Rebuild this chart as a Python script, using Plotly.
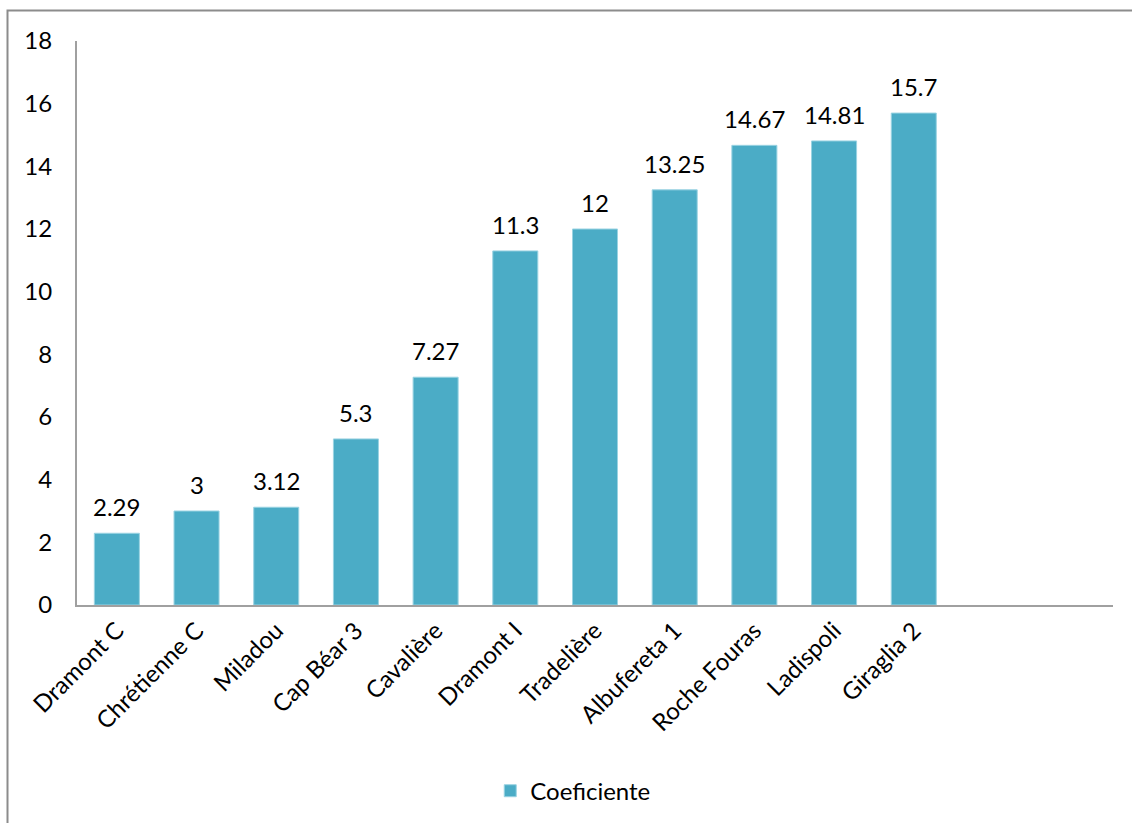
import plotly.graph_objects as go

# Sites ordered by coefficient
sites = ["Dramont C", "Chrétienne C", "Miladou", "Cap Béar 3", "Cavalière",
         "Dramont I", "Tradelière", "Albufereta 1", "Roche Fouras", "Ladispoli",
         "Giraglia 2"]
coef = [2.29, 3, 3.12, 5.3, 7.27, 11.3, 12, 13.25, 14.67, 14.81, 15.7]
y_ticks = [0, 2, 4, 6, 8, 10, 12, 14, 16, 18]

W, H = 1132, 823
ML, MR, MT, MB = 77, 19, 41, 218
FONT = "Lato, Calibri, sans-serif"
FS = 24
BAR = "#4BACC6"

positions = list(range(len(sites)))

fig = go.Figure(go.Bar(
    x=positions, y=coef, name="Coeficiente",
    width=0.565,
    marker=dict(color=BAR, line=dict(color="#9AD3E2", width=1)),
))

# value labels above each bar
for xi, v in zip(positions, coef):
    fig.add_annotation(x=xi, y=v, text=f"{v:g}", showarrow=False,
                       yanchor="bottom", yshift=10,
                       font=dict(family=FONT, size=FS, color="#000"))

pw, ph = W - ML - MR, H - MT - MB
fig.update_layout(
    width=W, height=H,
    margin=dict(l=ML, r=MR, t=MT, b=MB, autoexpand=False),
    paper_bgcolor="white", plot_bgcolor="white",
    font=dict(family=FONT, size=FS, color="#000"),
    showlegend=True,
    legend=dict(orientation="h", x=0.479, xanchor="center", y=-0.33, yanchor="middle",
                font=dict(family=FONT, size=FS)),
    xaxis=dict(range=[-0.5, 12.5], tickvals=positions, ticktext=sites,
               tickangle=-45, showgrid=False, zeroline=False,
               showline=True, linecolor="#A0A0A0", linewidth=2, ticks=""),
    yaxis=dict(range=[0, 18], tickvals=y_ticks, showgrid=False, zeroline=False,
               showline=True, linecolor="#A0A0A0", linewidth=2, ticks="",
               ticklabelstandoff=18),
    shapes=[dict(type="rect", xref="paper", yref="paper",
                 x0=(7.5 - ML) / pw, x1=1.2,
                 y0=-1.0, y1=(H - MB - 10.5) / ph,
                 line=dict(color="#8C8C8C", width=2), fillcolor="rgba(0,0,0,0)")],
)

fig.write_html("out.html")
